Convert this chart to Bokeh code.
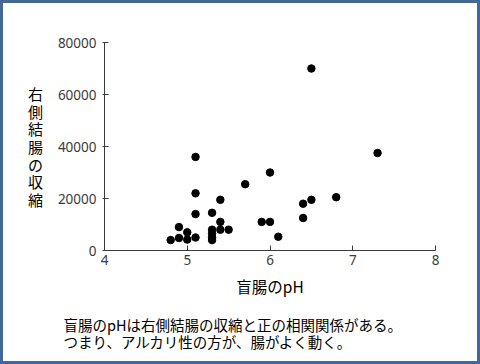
from bokeh.plotting import figure
from bokeh.models import Range1d, FixedTicker, Title
from bokeh.embed import file_html
from bokeh.resources import INLINE

# ---- data ----
cecum_ph = [5.1, 6.0, 5.7, 5.1, 5.4, 6.4, 6.5, 6.8, 5.1, 5.3, 6.4, 5.4, 5.9, 6.0,
            4.9, 5.0, 5.3, 5.4, 5.5, 5.3, 5.3, 5.3, 4.8, 4.9, 5.0, 5.1, 6.1, 6.5, 7.3]
right_colon_contraction = [36000, 30000, 25500, 22000, 19500, 18000, 19500, 20500, 14000,
                           14500, 12500, 11000, 11000, 11000, 9000, 7000, 8000, 8000, 8000,
                           6500, 5000, 4000, 4000, 4800, 4200, 5000, 5300, 70000, 37500]
x_ticks = [4, 5, 6, 7, 8]
y_ticks = [0, 20000, 40000, 60000, 80000]
x_label = "盲腸のpH"
y_label = "右側結腸の収縮"
caption_lines = ["盲腸のpHは右側結腸の収縮と正の相関関係がある。",
                 "つまり、アルカリ性の方が、腸がよく動く。"]

B = 3  # width of the picture's blue frame

p = figure(frame_width=331, frame_height=208, output_backend="svg", toolbar_location=None,
           x_range=Range1d(4, 8), y_range=Range1d(0, 80000),
           min_border_left=104 - B, min_border_right=45 - B,
           min_border_top=42 - B, min_border_bottom=114 - B)
p.styles = {"border": f"{B}px solid #41679b", "box-sizing": "content-box"}
p.outline_line_color = None
p.grid.visible = False
p.background_fill_color = "white"
p.border_fill_color = "white"

p.scatter(cecum_ph, right_colon_contraction, size=7.5, color="black")

axis_col = "#3a3a3a"
for ax in (p.xaxis[0], p.yaxis[0]):
    ax.axis_line_color = axis_col
    ax.major_tick_line_color = axis_col
    ax.minor_tick_line_color = None
    ax.major_label_text_color = "#3a3a3a"
    ax.major_label_text_font = "Noto Sans"
    ax.major_label_text_font_size = "13.5px"

p.xaxis.ticker = FixedTicker(ticks=x_ticks)
p.yaxis.ticker = FixedTicker(ticks=y_ticks)
p.xaxis.major_tick_in = 5
p.xaxis.major_tick_out = 0
p.xaxis.major_label_standoff = 4
p.yaxis.major_tick_in = 4
p.yaxis.major_tick_out = 2
p.yaxis.major_label_standoff = 6

jp = "Noto Sans CJK JP"

# vertical, upright y-axis label
p.yaxis.axis_label = "\n".join(list(y_label))
p.yaxis.axis_label_orientation = "horizontal"
p.yaxis.axis_label_text_font = jp
p.yaxis.axis_label_text_font_style = "normal"
p.yaxis.axis_label_text_font_size = "15px"
p.yaxis.axis_label_text_color = "black"
p.yaxis.axis_label_text_line_height = 0.84
p.yaxis.axis_label_standoff = 12

# x label and caption as titles stacked below the x axis
p.add_layout(Title(text=x_label, align="center", offset=-6, standoff=11,
                   text_font=jp, text_font_size="15.5px", text_font_style="normal",
                   text_color="black"), "below")
p.add_layout(Title(text="\n".join(caption_lines), align="left", offset=-41, standoff=19,
                   text_font=jp, text_font_size="14.5px", text_font_style="normal",
                   text_color="black", text_line_height=0.82), "below")

open("out.html", "w").write(file_html(p, INLINE))
